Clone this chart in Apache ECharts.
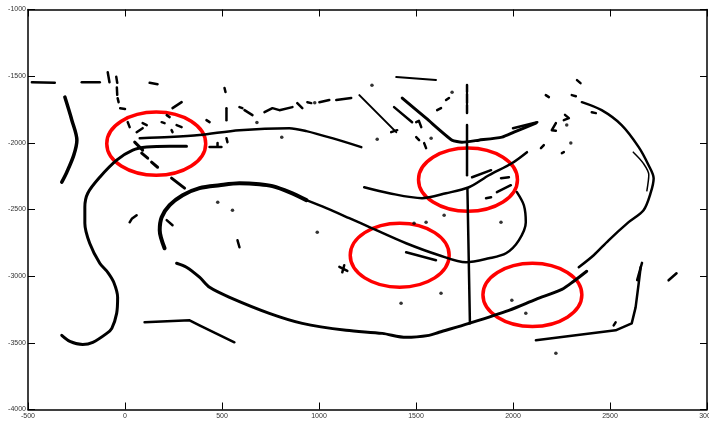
<!DOCTYPE html>
<html><head><meta charset="utf-8">
<script src="https://cdn.jsdelivr.net/npm/echarts@6/dist/echarts.min.js"></script>
<style>html,body{margin:0;padding:0;background:#fff}#c{width:709px;height:421px}</style>
</head><body><div id="c"></div>
<script>
// axis tick values
const xTickValues = [-500, 0, 500, 1000, 1500, 2000, 2500, 3000];
const yTickValues = [-4000, -3500, -3000, -2500, -2000, -1500, -1000];

// main trajectories (data units)
const outerPath = [[-326,-3444],[-284,-3489],[-218,-3512],[-166,-3496],[-94,-3429],[-68,-3391],[-43,-3279],[-38,-3159],[-58,-3046],[-89,-2971],[-130,-2903],[-182,-2753],[-207,-2603],[-207,-2483],[-192,-2378],[-130,-2258],[-43,-2130],[40,-2055],[112,-2032],[230,-2025],[317,-2025]];
const upperPath = [[76,-1965],[230,-1957],[384,-1942],[590,-1905],[847,-1890],[935,-1912],[1068,-1965],[1218,-2032]];
const leftStroke = [[-310,-1657],[-274,-1830],[-248,-1980],[-264,-2092],[-300,-2220],[-326,-2295]];
const eyeLeft = [[204,-2791],[179,-2656],[189,-2558],[230,-2468],[297,-2393],[384,-2340],[487,-2318],[590,-2303],[693,-2310],[760,-2325],[847,-2370],[935,-2430]];
const eyeRight = [[935,-2430],[1038,-2490],[1156,-2565],[1274,-2641],[1449,-2753],[1619,-2843],[1758,-2896],[1876,-2866],[1964,-2828],[2030,-2731],[2066,-2596],[2056,-2468],[2020,-2370]];
const eyeBottom = [[266,-2903],[317,-2933],[384,-3008],[436,-3084],[539,-3159],[744,-3279],[914,-3354],[1140,-3406],[1326,-3429],[1449,-3459],[1567,-3444],[1619,-3421],[1773,-3354],[1979,-3256],[2118,-3174],[2252,-3099],[2313,-3038],[2380,-2963]];
const rightArc = [[2355,-1695],[2457,-1755],[2560,-1867],[2648,-2032],[2699,-2168],[2725,-2265],[2709,-2378],[2673,-2505],[2596,-2595],[2493,-2731],[2416,-2843],[2339,-2933]];
const rightArcStrand = [[2620,-2070],[2670,-2150],[2700,-2240],[2690,-2360]];
const lowerRight = [[2118,-3481],[2529,-3406],[2612,-3354],[2632,-3234],[2648,-3053],[2658,-2933]];
const bottomLine = [[101,-3346],[333,-3331],[384,-3369],[564,-3496]];
const midLine = [[1233,-2333],[1362,-2378],[1531,-2415],[1655,-2378],[1773,-2333],[1876,-2243],[1994,-2153],[2072,-2070]];
const topRightPath = [[1429,-1664],[1552,-1815],[1686,-1980],[1737,-1995],[1824,-1980],[1943,-1957],[2005,-1920],[2118,-1852]];
const diagLine = [[1208,-1642],[1398,-1920]];
const topLine = [[1398,-1507],[1603,-1529]];
const vertSegments = [
  [[1763,-1567],[1763,-1619]],
  [[1763,-1634],[1763,-1702]],
  [[1763,-1717],[1763,-1777]],
  [[1763,-1867],[1763,-2243]],
  [[1765,-2340],[1778,-3354]]
];
const dashedDiag = [
  [[50,-1995],[91,-2055]],
  [[86,-2077],[117,-2115]],
  [[137,-2145],[168,-2183]],
  [[240,-2265],[307,-2340]]
];
const shortMarks = [
  [[-480,-1545],[-362,-1550]],
  [[-223,-1545],[-130,-1545]],
  [[-89,-1470],[-80,-1545]],
  [[-45,-1505],[-40,-1550]],
  [[127,-1550],[168,-1560]],
  [[-42,-1585],[-40,-1640]],
  [[-38,-1665],[-33,-1695]],
  [[-25,-1740],[0,-1747]],
  [[14,-1845],[24,-1882]],
  [[60,-1920],[91,-1890]],
  [[91,-1852],[112,-1867]],
  [[189,-1845],[204,-1852]],
  [[215,-1792],[230,-1807]],
  [[245,-1740],[292,-1695]],
  [[266,-1867],[292,-1882]],
  [[240,-1905],[245,-1920]],
  [[420,-1830],[436,-1845]],
  [[513,-1589],[518,-1619]],
  [[523,-1740],[523,-1830]],
  [[523,-1965],[528,-1995]],
  [[436,-2032],[497,-2032]],
  [[477,-2002],[477,-2030]],
  [[590,-1732],[605,-1740]],
  [[616,-1755],[657,-1792]],
  [[719,-1770],[760,-1740],[796,-1755],[863,-1732]],
  [[888,-1702],[914,-1740]],
  [[940,-1695],[960,-1702]],
  [[1002,-1695],[1053,-1679]],
  [[1089,-1679],[1166,-1664]],
  [[1372,-1920],[1403,-1905]],
  [[1387,-1732],[1480,-1845]],
  [[1501,-1845],[1515,-1835],[1527,-1882]],
  [[1501,-1957],[1516,-1980]],
  [[1542,-2002],[1552,-2040]],
  [[1609,-1755],[1629,-1740]],
  [[1655,-1679],[1670,-1664]],
  [[2330,-1530],[2348,-1552]],
  [[2169,-1642],[2185,-1657]],
  [[2303,-1642],[2324,-1650]],
  [[2268,-1790],[2288,-1815],[2262,-1830]],
  [[2221,-1852],[2200,-1905],[2221,-1910]],
  [[2144,-2040],[2159,-2017]],
  [[2252,-2077],[2262,-2070]],
  [[2406,-1770],[2427,-1777]],
  [[2000,-1890],[2125,-1845]],
  [[1938,-2265],[1979,-2258]],
  [[1917,-2370],[1989,-2318]],
  [[1861,-2415],[1887,-2408]],
  [[1789,-2258],[1887,-2205]],
  [[24,-2596],[35,-2570],[60,-2543]],
  [[215,-2580],[245,-2618]],
  [[580,-2731],[590,-2783]],
  [[1105,-2930],[1146,-2960]],
  [[1130,-2918],[1120,-2971]],
  [[1449,-2821],[1603,-2881]],
  [[2519,-3369],[2529,-3346]],
  [[2802,-3031],[2843,-2978]],
  [[2640,-3030],[2665,-2900]]
];
const dots = [[680,-1848],[808,-1958],[1273,-1568],[1300,-1973],[1578,-1965],[1686,-1620],[2277,-1867],[2298,-2002],[478,-2445],[554,-2505],[991,-2671],[1490,-2603],[1552,-2596],[1645,-2543],[1629,-3128],[1423,-3204],[1938,-2596],[1994,-3181],[2066,-3279],[2221,-3579],[978,-1700]];

// red annotation ellipses: centre x, centre y, radius x, radius y (data units)
const ellipseX = [161, 1768, 1416, 2100];
const ellipseY = [-2006, -2276, -2843, -3140];
const ellipseRx = [255, 255, 255, 255];
const ellipseRy = [237, 237, 240, 237];

const chart = echarts.init(document.getElementById('c'), null, {renderer: 'canvas'});
const series = [];
function addPath(pts, width, smooth) {
  series.push({
    type: 'line', data: pts, symbol: 'none', smooth: smooth || false,
    xAxisIndex: 0, yAxisIndex: 0, z: 3, silent: true,
    lineStyle: {color: '#000', width: width, cap: 'round', join: 'round'}
  });
}
series.push({
  type: 'custom', xAxisIndex: 0, yAxisIndex: 0, z: 2, silent: true,
  data: ellipseX.map((x, i) => [x, ellipseY[i], ellipseRx[i], ellipseRy[i]]),
  renderItem: function (params, api) {
    const c = api.coord([api.value(0), api.value(1)]);
    const s = api.size([api.value(2), api.value(3)]);
    return {type: 'ellipse', shape: {cx: c[0], cy: c[1], rx: s[0], ry: s[1]},
            style: {fill: null, stroke: '#ff0000', lineWidth: 3.5}};
  }
});
addPath(outerPath, 3, 0.3);
addPath(upperPath, 2.5, 0.3);
addPath(leftStroke, 3.5, 0.3);
addPath(eyeLeft, 4, 0.3);
addPath(eyeRight, 2.5, 0.3);
addPath(eyeBottom, 3, 0.3);
addPath(rightArc, 2.5, 0.3);
addPath(rightArcStrand, 1.5, 0.3);
addPath(lowerRight, 2.5, false);
addPath(bottomLine, 2.5, false);
addPath(midLine, 2.5, 0.3);
addPath(topRightPath, 3, 0.2);
addPath(diagLine, 2, false);
addPath(topLine, 2, false);
vertSegments.forEach(s => addPath(s, 2.5, false));
dashedDiag.forEach(s => addPath(s, 3, false));
shortMarks.forEach(s => addPath(s, 2.5, false));
series.push({type: 'scatter', data: dots, symbol: 'circle', symbolSize: 3.5, z: 3, silent: true,
  itemStyle: {color: '#000'}});

const labelStyle = {fontSize: 7, color: '#333', fontFamily: 'Liberation Sans, Arial, sans-serif',
  formatter: function (v) { return String(v); }};
function xAx(pos, labels) {
  return {type: 'value', position: pos, min: xTickValues[0], max: xTickValues[xTickValues.length - 1], interval: 500,
    axisLine: {show: true, onZero: false, lineStyle: {color: '#000', width: 1.5}},
    axisTick: {show: true, inside: true, length: 7, lineStyle: {color: '#000', width: 1}},
    axisLabel: Object.assign({show: labels, margin: 3, showMaxLabel: true, showMinLabel: true,
      alignMaxLabel: 'center', alignMinLabel: 'center'}, labelStyle),
    splitLine: {show: false}};
}
function yAx(pos, labels) {
  return {type: 'value', position: pos, min: yTickValues[0], max: yTickValues[yTickValues.length - 1], interval: 500,
    axisLine: {show: true, onZero: false, lineStyle: {color: '#000', width: 1.5}},
    axisTick: {show: true, inside: true, length: 7, lineStyle: {color: '#000', width: 1}},
    axisLabel: Object.assign({show: labels, margin: 2, showMaxLabel: true, showMinLabel: true}, labelStyle),
    splitLine: {show: false}};
}
chart.setOption({
  animation: false,
  backgroundColor: '#fff',
  grid: {left: 28, right: 2, top: 9.5, bottom: 11.5, containLabel: false, outerBoundsMode: 'none'},
  xAxis: [xAx('bottom', true), xAx('top', false)],
  yAxis: [yAx('left', true), yAx('right', false)],
  series: series
});
</script>
</body></html>
